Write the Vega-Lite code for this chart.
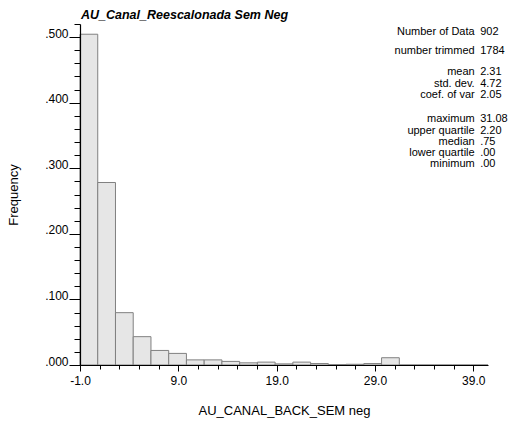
{
  "$schema": "https://vega.github.io/schema/vega-lite/v6.json",
  "width": 408,
  "height": 341,
  "autosize": {"type": "none"},
  "padding": {"left": 80, "top": 24, "right": 25, "bottom": 60},
  "background": "white",
  "title": {"text": "AU_Canal_Reescalonada Sem Neg", "anchor": "start", "frame": "group", "font": "Liberation Sans", "fontSize": 12.5, "fontWeight": "bold", "fontStyle": "italic", "color": "black", "offset": 2, "dx": 1},
  "config": {"view": {"stroke": null}, "font": "Liberation Sans"},
  "datasets": {
    "bins": [
      {"bin_start": -1, "bin_end": 0.8043, "frequency": 0.5044},
      {"bin_start": 0.8043, "bin_end": 2.6087, "frequency": 0.2783},
      {"bin_start": 2.6087, "bin_end": 4.413, "frequency": 0.0798},
      {"bin_start": 4.413, "bin_end": 6.2174, "frequency": 0.0432},
      {"bin_start": 6.2174, "bin_end": 8.0217, "frequency": 0.0222},
      {"bin_start": 8.0217, "bin_end": 9.8261, "frequency": 0.0177},
      {"bin_start": 9.8261, "bin_end": 11.6304, "frequency": 0.0078},
      {"bin_start": 11.6304, "bin_end": 13.4348, "frequency": 0.0078},
      {"bin_start": 13.4348, "bin_end": 15.2391, "frequency": 0.0055},
      {"bin_start": 15.2391, "bin_end": 17.0435, "frequency": 0.0033},
      {"bin_start": 17.0435, "bin_end": 18.8478, "frequency": 0.0044},
      {"bin_start": 18.8478, "bin_end": 20.6522, "frequency": 0.0017},
      {"bin_start": 20.6522, "bin_end": 22.4565, "frequency": 0.0044},
      {"bin_start": 22.4565, "bin_end": 24.2609, "frequency": 0.0022},
      {"bin_start": 24.2609, "bin_end": 26.0652, "frequency": 0.0006},
      {"bin_start": 26.0652, "bin_end": 27.8696, "frequency": 0.0011},
      {"bin_start": 27.8696, "bin_end": 29.6739, "frequency": 0.0022},
      {"bin_start": 29.6739, "bin_end": 31.4783, "frequency": 0.0111},
      {"bin_start": 31.4783, "bin_end": 33.2826, "frequency": 0},
      {"bin_start": 33.2826, "bin_end": 35.087, "frequency": 0},
      {"bin_start": 35.087, "bin_end": 36.8913, "frequency": 0},
      {"bin_start": 36.8913, "bin_end": 38.6957, "frequency": 0},
      {"bin_start": 38.6957, "bin_end": 40.5, "frequency": 0}
    ],
    "stats": [
      {"label": "Number of Data", "value": "902", "line": 0.2},
      {"label": "number trimmed", "value": "1784", "line": 2.1},
      {"label": "mean", "value": "2.31", "line": 4.2},
      {"label": "std. dev.", "value": "4.72", "line": 5.35},
      {"label": "coef. of var", "value": "2.05", "line": 6.5},
      {"label": "maximum", "value": "31.08", "line": 8.9},
      {"label": "upper quartile", "value": "2.20", "line": 10.05},
      {"label": "median", "value": ".75", "line": 11.15},
      {"label": "lower quartile", "value": ".00", "line": 12.25},
      {"label": "minimum", "value": ".00", "line": 13.35}
    ]
  },
  "layer": [
    {
      "data": {"name": "bins"},
      "mark": {"type": "rect", "fill": "#e6e6e6", "stroke": "#808080", "strokeWidth": 1},
      "encoding": {
        "x": {"field": "bin_start", "type": "quantitative",
          "scale": {"domain": [-1, 40.5], "nice": false, "zero": false},
          "axis": {"orient": "bottom", "zindex": 1, "values": [-1, 9, 19, 29, 39], "labelExpr": "replace(format(datum.value, '.1f'), '\u2212', '-')",
            "tickSize": 6, "tickColor": "black", "tickWidth": 1, "domain": true, "domainColor": "black", "domainWidth": 1.2, "grid": false,
            "labelFlush": false, "labelOverlap": false, "labelFont": "Liberation Sans", "labelFontSize": 12, "labelColor": "black", "labelPadding": 4,
            "title": "AU_CANAL_BACK_SEM neg", "titleFont": "Liberation Sans", "titleFontSize": 13, "titleFontWeight": "normal", "titleColor": "black", "titlePadding": 18}},
        "x2": {"field": "bin_end"},
        "y": {"field": "frequency", "type": "quantitative",
          "scale": {"domain": [0, 0.52], "nice": false, "zero": true},
          "axis": {"orient": "left", "zindex": 1, "values": [0, 0.1, 0.2, 0.3, 0.4, 0.5], "labelExpr": "replace(format(datum.value, '.3f'), '0.', '.')",
            "tickSize": 11, "tickColor": "black", "tickWidth": 1, "domain": true, "domainColor": "black", "domainWidth": 1.2, "grid": false,
            "labelFlush": false, "labelOverlap": false, "labelFont": "Liberation Sans", "labelFontSize": 12, "labelColor": "black", "labelPadding": 1, "labelBaseline": "alphabetic",
            "title": "Frequency", "titleFont": "Liberation Sans", "titleFontSize": 13, "titleFontWeight": "normal", "titleColor": "black", "titlePadding": 24}},
        "y2": {"datum": 0}
      }
    },
    {
      "data": {"name": "bins"},
      "mark": {"type": "rect", "opacity": 0},
      "encoding": {
        "x": {"field": "bin_start", "type": "quantitative",
          "scale": {"domain": [-1, 40.5], "nice": false, "zero": false},
          "axis": {"orient": "bottom", "zindex": 1, "values": [-1, 1, 3, 5, 7, 9, 11, 13, 15, 17, 19, 21, 23, 25, 27, 29, 31, 33, 35, 37, 39],
            "labels": false, "domain": false, "grid": false, "tickSize": 4, "tickColor": "black", "tickWidth": 1, "title": null}},
        "x2": {"field": "bin_end"},
        "y": {"field": "frequency", "type": "quantitative",
          "scale": {"domain": [0, 0.52], "nice": false, "zero": true},
          "axis": {"orient": "left", "zindex": 1, "values": [0, 0.02, 0.04, 0.06, 0.08, 0.1, 0.12, 0.14, 0.16, 0.18, 0.2, 0.22, 0.24, 0.26, 0.28, 0.3, 0.32, 0.34, 0.36, 0.38, 0.4, 0.42, 0.44, 0.46, 0.48, 0.5, 0.52],
            "labels": false, "domain": false, "grid": false, "tickSize": 6, "tickColor": "black", "tickWidth": 1, "title": null}},
        "y2": {"datum": 0}
      }
    },
    {
      "data": {"name": "stats"},
      "mark": {"type": "text", "align": "right", "baseline": "middle", "dx": -3.5, "font": "Liberation Sans", "fontSize": 11, "color": "black"},
      "encoding": {
        "x": {"datum": 39.5, "type": "quantitative", "scale": {"domain": [-1, 40.5], "nice": false, "zero": false}, "axis": null},
        "y": {"field": "line", "type": "quantitative", "scale": {"domain": [-0.6, 33.5], "reverse": true, "nice": false, "zero": false}, "axis": null},
        "text": {"field": "label", "type": "nominal"}
      }
    },
    {
      "data": {"name": "stats"},
      "mark": {"type": "text", "align": "left", "baseline": "middle", "dx": 2, "font": "Liberation Sans", "fontSize": 11, "color": "black"},
      "encoding": {
        "x": {"datum": 39.5, "type": "quantitative", "scale": {"domain": [-1, 40.5], "nice": false, "zero": false}, "axis": null},
        "y": {"field": "line", "type": "quantitative", "scale": {"domain": [-0.6, 33.5], "reverse": true, "nice": false, "zero": false}, "axis": null},
        "text": {"field": "value", "type": "nominal"}
      }
    }
  ],
  "resolve": {"scale": {"y": "independent"}, "axis": {"x": "independent", "y": "independent"}}
}
